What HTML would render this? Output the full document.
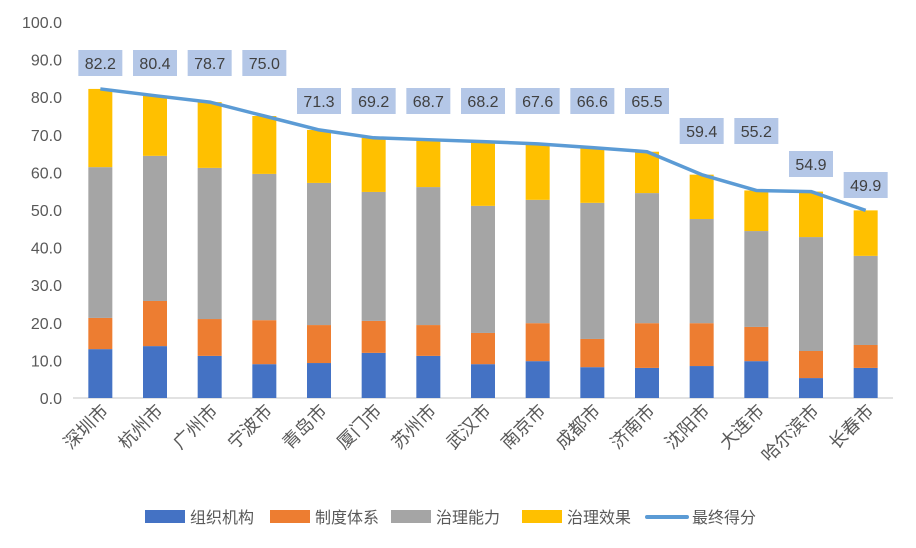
<!DOCTYPE html>
<html><head><meta charset="utf-8"><style>
body{margin:0;background:#fff;font-family:"Liberation Sans","Noto Sans CJK SC",sans-serif;}
svg text{font-family:"Liberation Sans","Noto Sans CJK SC",sans-serif;}
</style></head><body>
<svg id="chart" width="916" height="543" xmlns="http://www.w3.org/2000/svg"></svg>
<script>
const cities=["深圳市","杭州市","广州市","宁波市","青岛市","厦门市","苏州市","武汉市","南京市","成都市","济南市","沈阳市","大连市","哈尔滨市","长春市"];
const org=[13.0,13.8,11.2,9.0,9.3,12.0,11.2,9.0,9.8,8.2,8.0,8.5,9.8,5.3,8.0];
const sys=[8.3,12.0,9.8,11.7,10.1,8.5,8.2,8.3,10.1,7.5,11.9,11.4,9.1,7.2,6.1];
const cap=[40.1,38.6,40.2,38.9,37.8,34.3,36.7,33.8,32.8,36.2,34.6,27.7,25.5,30.3,23.7];
const eff=[20.8,16.0,17.5,15.4,14.1,14.4,12.6,17.1,14.9,14.7,11.0,11.8,10.8,12.1,12.1];
const totals=[82.2,80.4,78.7,75.0,71.3,69.2,68.7,68.2,67.6,66.6,65.5,59.4,55.2,54.9,49.9];
const ticks=[0,10,20,30,40,50,60,70,80,90,100];
const labelRow=[0,0,0,0,1,1,1,1,1,1,1,2,2,3,4];
const NS="http://www.w3.org/2000/svg";
const svg=document.getElementById('chart');
const x0=73,x1=893,y0=398,ppu=3.76;
const step=(x1-x0)/cities.length,bw=24;
const X=i=>x0+step*(i+0.5);
const Y=v=>y0-v*ppu;
function mk(t,a,p){const e=document.createElementNS(NS,t);for(const k in a)e.setAttribute(k,a[k]);(p||svg).appendChild(e);return e;}
ticks.forEach(t=>{
 const e=mk('text',{x:62,y:Y(t)+6,'text-anchor':'end','font-size':16,fill:'#595959'});
 
 
 e.textContent=t.toFixed(1);
});
const axis=mk('line',{x1:x0,x2:x1,y1:y0,y2:y0,stroke:'#d9d9d9','stroke-width':1.5});


const series=[[org,'#4472c4','org'],[sys,'#ed7d31','sys'],[cap,'#a5a5a5','cap'],[eff,'#ffc000','eff']];
cities.forEach((c,i)=>{
 let base=0;
 series.forEach(([arr,col,nm])=>{
  const r=mk('rect',{x:X(i)-bw/2,y:Y(base+arr[i]),width:bw,height:arr[i]*ppu,fill:col});
  
  
  base+=arr[i];
 });
 const t=mk('text',{transform:`translate(${X(i)+9},${y0+14}) rotate(-45)`,'text-anchor':'end','font-size':18,fill:'#595959'});
 
 
 t.textContent=c;
});
const pts=totals.map((v,i)=>X(i)+','+Y(v)).join(' ');
const line=mk('polyline',{points:pts,fill:'none',stroke:'#5b9bd5','stroke-width':3.5,'stroke-linejoin':'round'});


const rowY=[50,88,118,151,172];
totals.forEach((v,i)=>{
 const by=Math.min(rowY[labelRow[i]],Y(v)-32);
 const g=mk('g',{});
 
 
 mk('rect',{x:X(i)-22,y:by,width:44,height:26,fill:'#b4c7e7'},g);
 const t=mk('text',{x:X(i),y:by+19,'text-anchor':'middle','font-size':16,fill:'#404040'},g);
 t.textContent=v.toFixed(1);
});
const leg=[['组织机构','#4472c4',145,'rect'],['制度体系','#ed7d31',270,'rect'],['治理能力','#a5a5a5',391,'rect'],['治理效果','#ffc000',522,'rect'],['最终得分','#5b9bd5',647,'line']];
leg.forEach(([n,c,x,k])=>{
 const g=mk('g',{});
 
 
 if(k==='rect')mk('rect',{x:x,y:510,width:40,height:13,fill:c},g);
 else mk('line',{x1:x,x2:x+40,y1:517,y2:517,stroke:c,'stroke-width':4,'stroke-linecap':'round'},g);
 const t=mk('text',{x:x+45,y:523,'font-size':16,fill:'#595959'},g);
 t.textContent=n;
});
</script>
</body></html>
